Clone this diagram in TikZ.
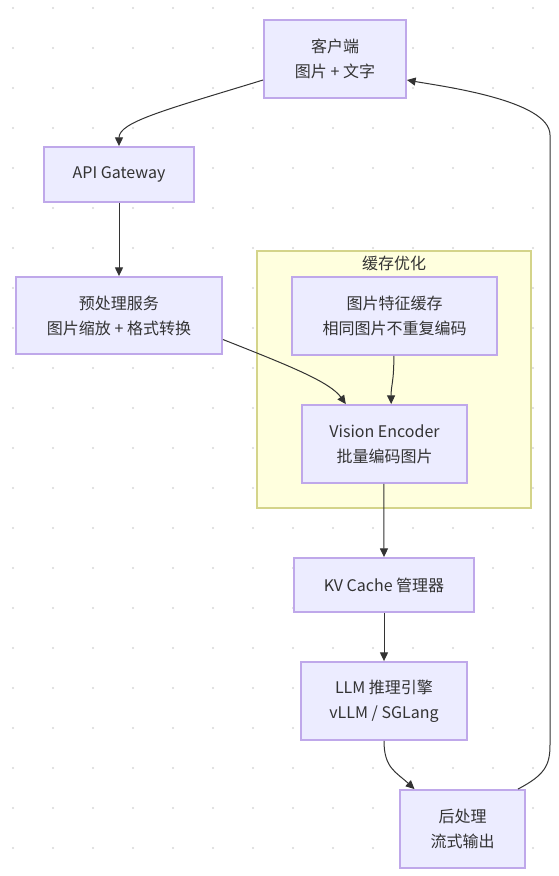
\documentclass[tikz,border=0pt]{standalone}
\usepackage{fontspec}
\setmainfont{Noto Sans CJK SC}
\usetikzlibrary{arrows.meta,calc}
\definecolor{nodefill}{HTML}{ECECFF}
\definecolor{nodeline}{HTML}{BFA8EA}
\definecolor{clfill}{HTML}{FFFFDE}
\definecolor{clline}{HTML}{D4D48A}
\definecolor{edge}{HTML}{333333}
\definecolor{txt}{HTML}{333333}
\definecolor{dotc}{HTML}{D8D8D8}
\begin{document}
\begin{tikzpicture}[x=0.75pt,y=-0.75pt,
  box/.style={draw=nodeline,fill=nodefill,line width=1.4pt,inner sep=0pt,align=center,
    text=txt,font=\fontsize{12pt}{18.75pt}\selectfont,minimum height=58.5pt},
  arr/.style={draw=edge,line width=0.75pt,-{Triangle[length=6.5pt,width=6pt]}}]
\useasboundingbox (0,0) rectangle (558,876);
\fill[white] (0,0) rectangle (558,876);
\foreach \i in {0,...,13}{\foreach \j in {0,...,21}{\fill[dotc] (13+40*\i,8+40*\j) circle (0.9pt);}}
% cluster
\node[draw=clline,fill=clfill,line width=1.2pt,minimum width=205.5pt,minimum height=192.75pt,inner sep=0pt] (cl) at (394,379.5) {};
\node[text=txt,font=\fontsize{12pt}{14pt}\selectfont] (cltitle) at (394,263) {缓存优化};
% nodes
\node[box,minimum width=106.5pt] (cli) at (335,59) {客户端\\图片 + 文字};
\node[box,minimum width=112.5pt,minimum height=41.25pt] (api) at (119,174.5) {API Gateway};
\node[box,minimum width=154.5pt,minimum height=57.75pt] (pre) at (119,315.5) {预处理服务\\图片缩放 + 格式转换};
\node[box,minimum width=153.75pt] (cache) at (394.5,316) {图片特征缓存\\相同图片不重复编码};
\node[box,minimum width=123.75pt] (vis) at (384.5,444) {Vision Encoder\\批量编码图片};
\node[box,minimum width=135pt,minimum height=40.5pt] (kv) at (384,585) {KV Cache 管理器};
\node[box,minimum width=124.5pt] (llm) at (384,701) {LLM 推理引擎\\vLLM / SGLang};
\node[box,minimum width=93.75pt] (post) at (462.5,829) {后处理\\流式输出};
% edges
\draw[arr] ([yshift=-15.75pt]cli.west) .. controls (165,110) and (119,122) .. (api.north);
\draw[arr] (api.south) -- (pre.north);
\draw[arr] ([yshift=-18pt]pre.east) .. controls (290,366) and (330,382) .. ([xshift=-29pt]vis.north);
\draw[arr] ([xshift=-0.5pt]cache.south) .. controls (394,382) and (391,385) .. ([xshift=5pt]vis.north);
\draw[arr] ([xshift=-0.5pt]vis.south) -- (kv.north);
\draw[arr] (kv.south) -- (llm.north);
\draw[arr] (llm.south) .. controls (384,768) and (396,772) .. ([xshift=-36pt]post.north);
\draw[arr] ([xshift=-6pt]post.north east) .. controls (545,775) and (550,765) .. (550,745) -- (550,135) .. controls (550,100) and (440,86) .. ([yshift=-15.75pt]cli.east);
\end{tikzpicture}
\end{document}
